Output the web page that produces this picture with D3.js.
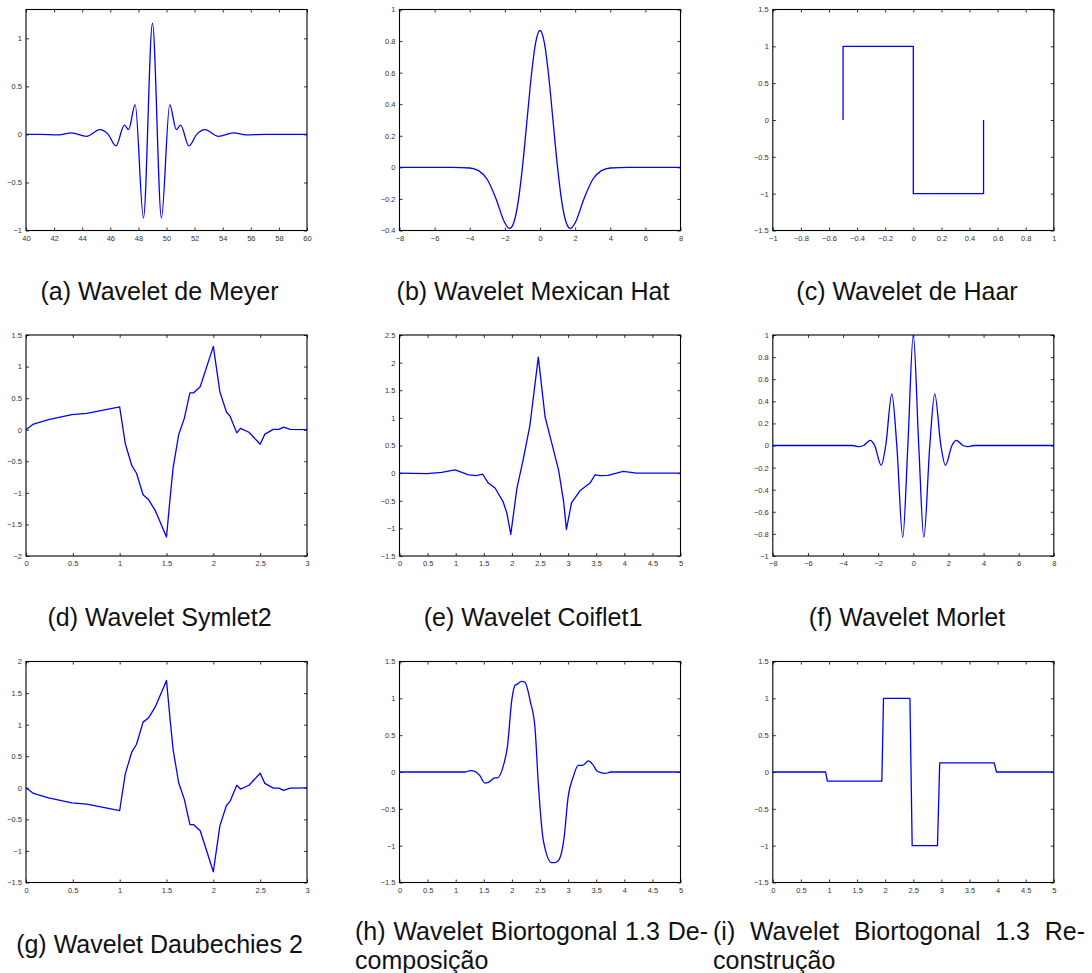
<!DOCTYPE html>
<html>
<head>
<meta charset="utf-8">
<script src="https://cdn.jsdelivr.net/npm/d3@7"></script>
<style>
  body { margin: 0; background: #fff; }
  svg { display: block; }
</style>
</head>
<body>
<svg id="chart" width="1092" height="973"></svg>
<script>
// (a) Meyer
const meyerX = [40, 41, 42.3, 43.25, 44.3, 45.27, 45.85, 46.4, 47.0, 47.3, 47.77, 48.36, 49, 49.64, 50.23, 50.7, 51.0, 51.6, 52.15, 52.73, 53.7, 54.75, 55.7, 57, 60];
const meyerY = [0, 0, -0.005, 0.017, -0.02, 0.05, 0, -0.12, 0.096, 0.05, 0.31, -0.87, 1.157, -0.87, 0.31, 0.05, 0.096, -0.12, 0, 0.05, -0.02, 0.017, -0.005, 0, 0];
const meyerXTicks = [40, 42, 44, 46, 48, 50, 52, 54, 56, 58, 60];
const meyerYTicks = [-1, -0.5, 0, 0.5, 1];

// (b) Mexican hat
const hatX = [-8, -5, -4, -3.5, -3, -2.5, -2, -1.73, -1.5, -1.25, -1, -0.75, -0.5, -0.25, 0, 0.25, 0.5, 0.75, 1, 1.25, 1.5, 1.73, 2, 2.5, 3, 3.5, 4, 5, 8];
const hatY = [0, 0, -0.004, -0.021, -0.077, -0.2, -0.352, -0.387, -0.352, -0.223, 0, 0.286, 0.574, 0.788, 0.867, 0.788, 0.574, 0.286, 0, -0.223, -0.352, -0.387, -0.352, -0.2, -0.077, -0.021, -0.004, 0, 0];
const hatXTicks = [-8, -6, -4, -2, 0, 2, 4, 6, 8];
const hatYTicks = [-0.4, -0.2, 0, 0.2, 0.4, 0.6, 0.8, 1];

// (c) Haar
const haarX = [-0.5, -0.5, 0, 0, 0.5, 0.5];
const haarY = [0, 1, 1, -1, -1, 0];
const haarXTicks = [-1, -0.8, -0.6, -0.4, -0.2, 0, 0.2, 0.4, 0.6, 0.8, 1];
const haarYTicks = [-1.5, -1, -0.5, 0, 0.5, 1, 1.5];

// (d) Symlet2
const symX = [0, 0.08, 0.24, 0.49, 0.65, 1.0, 1.06, 1.13, 1.18, 1.25, 1.31, 1.38, 1.5, 1.54, 1.57, 1.63, 1.69, 1.75, 1.79, 1.86, 2.0, 2.07, 2.14, 2.18, 2.25, 2.29, 2.38, 2.5, 2.55, 2.64, 2.7, 2.75, 2.82, 3.0];
const symY = [0, 0.09, 0.16, 0.24, 0.26, 0.36, -0.22, -0.57, -0.69, -1.03, -1.11, -1.28, -1.70, -1.06, -0.61, -0.08, 0.18, 0.585, 0.585, 0.68, 1.32, 0.60, 0.28, 0.21, -0.05, 0.02, -0.04, -0.23, -0.07, 0.005, 0.005, 0.04, 0.005, 0];
const symXTicks = [0, 0.5, 1, 1.5, 2, 2.5, 3];
const symYTicks = [-2, -1.5, -1, -0.5, 0, 0.5, 1, 1.5];

// (e) Coiflet1
const coifX = [0, 0.49, 0.75, 0.99, 1.23, 1.37, 1.48, 1.58, 1.70, 1.84, 1.91, 1.98, 2.09, 2.2, 2.32, 2.47, 2.59, 2.68, 2.83, 2.92, 2.97, 3.06, 3.21, 3.39, 3.48, 3.57, 3.71, 3.98, 4.22, 5];
const coifY = [0, -0.01, 0.015, 0.06, -0.03, -0.045, -0.02, -0.18, -0.27, -0.51, -0.72, -1.11, -0.27, 0.24, 0.86, 2.10, 1.02, 0.66, 0.06, -0.51, -1.02, -0.54, -0.32, -0.18, -0.03, -0.045, -0.04, 0.03, 0, 0];
const coifXTicks = [0, 0.5, 1, 1.5, 2, 2.5, 3, 3.5, 4, 4.5, 5];
const coifYTicks = [-1.5, -1, -0.5, 0, 0.5, 1, 1.5, 2, 2.5];

// (f) Morlet
const morletX = [-8, -4, -3.46, -3.07, -2.83, -2.45, -2.2, -1.83, -1.57, -1.22, -0.94, -0.6, -0.31, 0, 0.31, 0.6, 0.94, 1.22, 1.57, 1.83, 2.2, 2.45, 2.83, 3.07, 3.46, 4, 8];
const morletY = [0, 0, 0, -0.01, 0, 0.047, 0, -0.18, 0, 0.467, 0, -0.83, 0, 1, 0, -0.83, 0, 0.467, 0, -0.18, 0, 0.047, 0, -0.01, 0, 0, 0];
const morletXTicks = [-8, -6, -4, -2, 0, 2, 4, 6, 8];
const morletYTicks = [-1, -0.8, -0.6, -0.4, -0.2, 0, 0.2, 0.4, 0.6, 0.8, 1];

// (g) Daubechies 2
const dbX = [0, 0.08, 0.24, 0.49, 0.65, 1.0, 1.06, 1.13, 1.18, 1.25, 1.31, 1.38, 1.5, 1.54, 1.57, 1.63, 1.69, 1.75, 1.79, 1.86, 2.0, 2.07, 2.14, 2.18, 2.25, 2.29, 2.38, 2.5, 2.55, 2.64, 2.7, 2.75, 2.82, 3.0];
const dbY = [0, -0.09, -0.16, -0.24, -0.26, -0.36, 0.22, 0.57, 0.69, 1.04, 1.11, 1.28, 1.70, 1.06, 0.61, 0.08, -0.18, -0.585, -0.585, -0.68, -1.33, -0.60, -0.28, -0.21, 0.04, -0.02, 0.04, 0.23, 0.07, -0.005, -0.005, -0.04, -0.005, 0];
const dbXTicks = [0, 0.5, 1, 1.5, 2, 2.5, 3];
const dbYTicks = [-1.5, -1, -0.5, 0, 0.5, 1, 1.5, 2];

// (h) Biortogonal 1.3 decomposition
const bdX = [0, 1.17, 1.26, 1.34, 1.43, 1.52, 1.58, 1.70, 1.74, 1.85, 1.92, 2.0, 2.06, 2.09, 2.17, 2.23, 2.33, 2.41, 2.47, 2.56, 2.71, 2.77, 2.84, 2.93, 3.0, 3.09, 3.18, 3.26, 3.36, 3.44, 3.52, 3.66, 3.76, 5];
const bdY = [0, 0, 0.02, 0.01, -0.05, -0.15, -0.14, -0.08, -0.08, 0.09, 0.34, 0.99, 1.18, 1.19, 1.23, 1.22, 0.95, 0.61, -0.16, -0.93, -1.23, -1.23, -1.19, -0.88, -0.34, -0.07, 0.09, 0.09, 0.15, 0.10, 0.01, -0.02, 0, 0];
const bdXTicks = [0, 0.5, 1, 1.5, 2, 2.5, 3, 3.5, 4, 4.5, 5];
const bdYTicks = [-1.5, -1, -0.5, 0, 0.5, 1, 1.5];

// (i) Biortogonal 1.3 reconstruction
const brX = [0, 0.94, 0.97, 1.94, 1.97, 2.44, 2.48, 2.93, 2.97, 3.94, 3.98, 5];
const brY = [0, 0, -0.125, -0.125, 1, 1, -1, -1, 0.125, 0.125, 0, 0];
const brXTicks = [0, 0.5, 1, 1.5, 2, 2.5, 3, 3.5, 4, 4.5, 5];
const brYTicks = [-1.5, -1, -0.5, 0, 0.5, 1, 1.5];

const svg = d3.select('#chart');

const colLeft = [26, 399.5, 772.8];
const rowTop = [9.5, 335, 661.5];
const W = 281, H = 221;

const panels = [
  { x: meyerX, y: meyerY, xd: [40, 60], yd: [-1, 1.3], xt: meyerXTicks, yt: meyerYTicks, curve: d3.curveMonotoneX },
  { x: hatX, y: hatY, xd: [-8, 8], yd: [-0.4, 1], xt: hatXTicks, yt: hatYTicks, curve: d3.curveMonotoneX },
  { x: haarX, y: haarY, xd: [-1, 1], yd: [-1.5, 1.5], xt: haarXTicks, yt: haarYTicks, curve: d3.curveLinear },
  { x: symX, y: symY, xd: [0, 3], yd: [-2, 1.5], xt: symXTicks, yt: symYTicks, curve: d3.curveLinear },
  { x: coifX, y: coifY, xd: [0, 5], yd: [-1.5, 2.5], xt: coifXTicks, yt: coifYTicks, curve: d3.curveLinear },
  { x: morletX, y: morletY, xd: [-8, 8], yd: [-1, 1], xt: morletXTicks, yt: morletYTicks, curve: d3.curveMonotoneX },
  { x: dbX, y: dbY, xd: [0, 3], yd: [-1.5, 2], xt: dbXTicks, yt: dbYTicks, curve: d3.curveLinear },
  { x: bdX, y: bdY, xd: [0, 5], yd: [-1.5, 1.5], xt: bdXTicks, yt: bdYTicks, curve: d3.curveMonotoneX },
  { x: brX, y: brY, xd: [0, 5], yd: [-1.5, 1.5], xt: brXTicks, yt: brYTicks, curve: d3.curveLinear }
];

let fmt = (d) => String(d).replace('-', '\u2212');

function styleAxis(g) {
  g.select('.domain').remove();
  g.selectAll('line').attr('stroke', '#000').attr('stroke-width', 0.8);
  g.selectAll('text')
    .attr('font-family', '"Liberation Sans", Arial, sans-serif')
    .attr('font-size', 7.5)
    .attr('fill', '#333');
}

panels.forEach((p, i) => {
  let g = svg.append('g')
    .attr('transform', `translate(${colLeft[i % 3]},${rowTop[Math.floor(i / 3)]})`);

  let x = d3.scaleLinear().domain(p.xd).range([0, W]);
  let y = d3.scaleLinear().domain(p.yd).range([H, 0]);

  g.append('g').attr('transform', `translate(0,${H})`)
    .call(d3.axisBottom(x).tickValues(p.xt).tickSizeInner(-3).tickSizeOuter(0).tickPadding(5).tickFormat(fmt))
    .call(styleAxis);
  g.append('g')
    .call(d3.axisTop(x).tickValues(p.xt).tickSizeInner(-3).tickSizeOuter(0).tickFormat(''))
    .call(styleAxis);
  g.append('g')
    .call(d3.axisLeft(y).tickValues(p.yt).tickSizeInner(-3).tickSizeOuter(0).tickPadding(4).tickFormat(fmt))
    .call(styleAxis);
  g.append('g').attr('transform', `translate(${W},0)`)
    .call(d3.axisRight(y).tickValues(p.yt).tickSizeInner(-3).tickSizeOuter(0).tickFormat(''))
    .call(styleAxis);

  g.append('rect')
    .attr('width', W).attr('height', H)
    .attr('fill', 'none').attr('stroke', '#000').attr('stroke-width', 1.1);

  let line = d3.line()
    .x((j) => x(p.x[j]))
    .y((j) => y(p.y[j]))
    .curve(p.curve);

  g.append('path')
    .attr('d', line(d3.range(p.x.length)))
    .attr('fill', 'none')
    .attr('stroke', '#0000ff')
    .attr('stroke-width', 1.3)
    .attr('stroke-linejoin', 'round');
});

// captions
const captionFont = '"Liberation Sans", Arial, sans-serif';
const singleCaptions = [
  { text: '(a) Wavelet de Meyer', cx: 159.5, y: 300 },
  { text: '(b) Wavelet Mexican Hat', cx: 533, y: 300 },
  { text: '(c) Wavelet de Haar', cx: 907, y: 300 },
  { text: '(d) Wavelet Symlet2', cx: 159.5, y: 626 },
  { text: '(e) Wavelet Coiflet1', cx: 533, y: 626 },
  { text: '(f) Wavelet Morlet', cx: 907, y: 626 },
  { text: '(g) Wavelet Daubechies 2', cx: 159.5, y: 953 }
];

singleCaptions.forEach((c) => {
  svg.append('text')
    .attr('x', c.cx).attr('y', c.y)
    .attr('text-anchor', 'middle')
    .attr('font-family', captionFont)
    .attr('font-size', 25)
    .attr('fill', '#111')
    .text(c.text);
});

const twoLineCaptions = [
  { first: '(h) Wavelet Biortogonal 1.3 De-', second: 'composição', x0: 355, x1: 708 },
  { first: '(i) Wavelet Biortogonal 1.3 Re-', second: 'construção', x0: 713, x1: 1085 }
];

twoLineCaptions.forEach((c) => {
  let t = svg.append('text')
    .attr('x', c.x0).attr('y', 940)
    .attr('font-family', captionFont)
    .attr('font-size', 25)
    .attr('fill', '#111')
    .text(c.first);
  // justify the first line by widening the word gaps
  let natural = t.node().getComputedTextLength();
  let gaps = c.first.split(' ').length - 1;
  t.attr('word-spacing', (c.x1 - c.x0 - natural) / gaps);

  svg.append('text')
    .attr('x', c.x0).attr('y', 969)
    .attr('font-family', captionFont)
    .attr('font-size', 25)
    .attr('fill', '#111')
    .text(c.second);
});
</script>
</body>
</html>
